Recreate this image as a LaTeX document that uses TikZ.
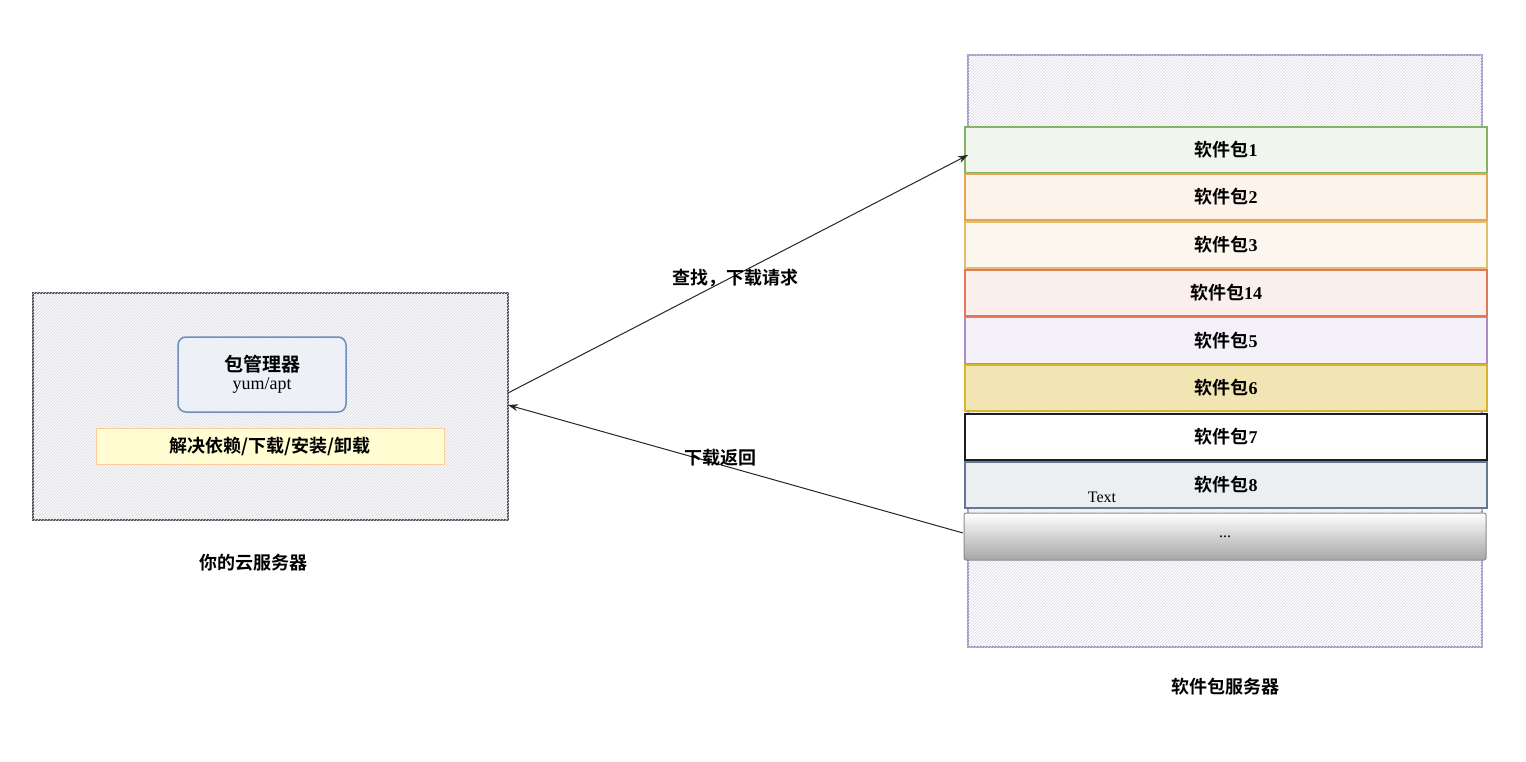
\documentclass[tikz,border=0pt]{standalone}
\usepackage{fontspec}
\setmainfont{Liberation Serif}
\newfontfamily\cjk{Noto Sans CJK SC}[BoldFont={* Bold}]
\usetikzlibrary{patterns,arrows.meta,shadings}
\definecolor{hatchc}{RGB}{215,215,225}
\definecolor{cg}{RGB}{130,179,102}
\definecolor{co}{RGB}{230,165,80}
\definecolor{cy}{RGB}{225,190,110}
\definecolor{cr}{RGB}{225,120,90}
\definecolor{cv}{RGB}{170,140,200}
\definecolor{cyy}{RGB}{215,180,40}
\definecolor{ck}{RGB}{30,30,30}
\definecolor{cb}{RGB}{100,120,150}
\definecolor{cpm}{RGB}{108,142,191}
\tikzset{
  lbl/.style={font=\cjk\bfseries\fontsize{18}{20}\selectfont},
  pkg/.style={draw=#1, line width=1.5pt, fill=#1!12, minimum width=522pt, minimum height=46pt, inner sep=0pt, lbl},
  arr/.style={-{Stealth[length=10pt,width=7pt]}, line width=1pt, draw=black!85}
}
\begin{document}
\begin{tikzpicture}[x=1pt,y=-1pt]
\useasboundingbox (0,0) rectangle (1526,762);
\fill[white] (0,0) rectangle (1526,762);
% left server
\node[draw=black!70, line width=1.5pt, fill=black!2, minimum width=475pt, minimum height=227pt, inner sep=0pt] (client) at (270.5,406.5) {};
\fill[pattern=north east lines, pattern color=hatchc] (client.south west) rectangle (client.north east);
\node[draw=cpm, line width=1.5pt, rounded corners=8pt, fill=cpm!12, minimum width=168pt, minimum height=75pt, inner sep=0pt, align=center] (pm) at (262,374.5) {{\cjk\bfseries\fontsize{19}{21}\selectfont 包管理器}\\[3pt]{\fontsize{18}{20}\selectfont yum/apt}};
\node[draw=orange!40, fill=yellow!18, line width=1pt, minimum width=348pt, minimum height=36pt, inner sep=0pt, lbl] (ops) at (270,446) {解决依赖/下载/安装/卸载};
\node[lbl] (cap1) at (253,563) {你的云服务器};
% right server
\node[draw=cv, line width=1.5pt, minimum width=514pt, minimum height=592pt, inner sep=0pt] (srv) at (1225,351) {};
\fill[pattern=north east lines, pattern color=hatchc] (srv.south west) rectangle (srv.north east);
\node[pkg=cg] (p1) at (1226,150) {软件包{\rmfamily 1}};
\node[pkg=co] (p2) at (1226,197) {软件包{\rmfamily 2}};
\node[pkg=cy] (p3) at (1226,245) {软件包{\rmfamily 3}};
\node[pkg=cr] (p4) at (1226,293) {软件包{\rmfamily 14}};
\node[pkg=cv] (p5) at (1226,340.5) {软件包{\rmfamily 5}};
\node[pkg=cyy, fill=cyy!35] (p6) at (1226,388) {软件包{\rmfamily 6}};
\node[pkg=ck, fill=white] (p7) at (1226,437) {软件包{\rmfamily 7}};
\node[pkg=cb] (p8) at (1226,485) {软件包{\rmfamily 8}};
\node[font=\fontsize{16}{18}\selectfont] (txt) at (1102,497) {Text};
\node[draw=black!45, line width=1pt, rounded corners=2pt, top color=white, bottom color=black!35, minimum width=522pt, minimum height=47pt, inner sep=0pt, font=\fontsize{16}{18}\selectfont] (more) at (1225,536.5) {...};
\node[lbl] (cap2) at (1225,687) {软件包服务器};
% arrows
\coordinate (a1) at (508,393);
\coordinate (a2) at (968,155);
\coordinate (b1) at (963,533);
\coordinate (b2) at (508,405);
\draw[arr] (a1) -- (a2);
\draw[arr] (b1) -- (b2);
\node[lbl] (l1) at (735,278) {查找，下载请求};
\node[lbl] (l2) at (720,458) {下载返回};
\end{tikzpicture}
\end{document}
